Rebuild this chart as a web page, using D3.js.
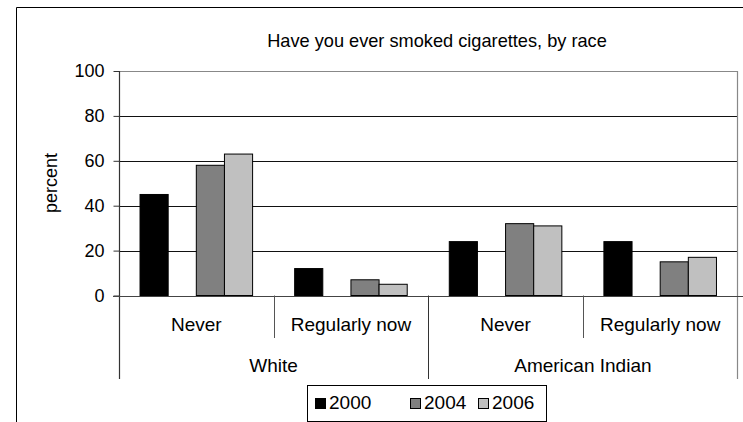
<!DOCTYPE html>
<html>
<head>
<meta charset="utf-8">
<script src="https://cdn.jsdelivr.net/npm/d3@7"></script>
<style>
  html, body { margin: 0; padding: 0; background: #fff; }
  svg { display: block; font-family: "Liberation Sans", Arial, sans-serif; }
</style>
</head>
<body>
<svg id="chart" width="743" height="422"></svg>
<script>
// ---- data ----
const groups = ["White", "American Indian"];
const answers = ["Never", "Regularly now"];
const years = [2000, 2004, 2006];
const values2000 = [45, 12, 24, 24];   // White-Never, White-Regularly, AI-Never, AI-Regularly
const values2004 = [58, 7, 32, 15];
const values2006 = [63, 5, 31, 17];
const yTicks = [0, 20, 40, 60, 80, 100];
const colors = ["#000000", "#808080", "#c0c0c0"];
const title = "Have you ever smoked cigarettes, by race";
const yLabel = "percent";

// ---- layout ----
const svg = d3.select("#chart");
const W = 743, H = 422;
const plot = { left: 119, right: 737.5, top: 71, bottom: 295.5 };

// outer frame (partially visible)
svg.append("path")
  .attr("d", `M16.5,${H + 2} L16.5,7.5 L${W + 2},7.5`)
  .attr("fill", "none").attr("stroke", "#000").attr("stroke-width", 1);

// title
svg.append("text")
  .attr("x", 437).attr("y", 47)
  .attr("text-anchor", "middle")
  .attr("font-size", 18.2)
  .attr("fill", "#000")
  .text(title);

const y = d3.scaleLinear().domain([0, 100]).range([plot.bottom, plot.top]);

const x0 = d3.scaleBand().domain(groups).range([plot.left, plot.right]).padding(0);
const x1 = d3.scaleBand().domain(answers).range([0, x0.bandwidth()]).padding(0);
const pad = x1.bandwidth() * 0.136;
const xYear = d3.scaleLinear().domain([1999, 2007]).range([pad, x1.bandwidth() - pad]);

// gridlines
svg.append("g").selectAll("line")
  .data(yTicks.filter(t => t > 0 && t < 100))
  .join("line")
  .attr("x1", plot.left).attr("x2", plot.right)
  .attr("y1", d => Math.round(y(d)) + 0.5).attr("y2", d => Math.round(y(d)) + 0.5)
  .attr("stroke", "#111").attr("stroke-width", 1);

// plot border top & right (gray)
svg.append("path")
  .attr("d", `M${plot.left},${Math.round(y(100)) + 0.5} L${plot.right},${Math.round(y(100)) + 0.5} L${plot.right},379`)
  .attr("fill", "none").attr("stroke", "#888").attr("stroke-width", 1.2);

// bars
const seriesValues = [values2000, values2004, values2006];
const cells = [];
groups.forEach((g, gi) => answers.forEach((a, ai) => {
  years.forEach((yr, si) => {
    cells.push({ g, a, yr, si, v: seriesValues[si][gi * answers.length + ai] });
  });
}));
svg.append("g").selectAll("rect")
  .data(cells)
  .join("rect")
  .attr("x", d => x0(d.g) + x1(d.a) + xYear(d.yr - 1))
  .attr("width", d => xYear(d.yr + 1) - xYear(d.yr - 1))
  .attr("y", d => y(d.v))
  .attr("height", d => y(0) - y(d.v))
  .attr("fill", d => colors[d.si])
  .attr("stroke", "#000").attr("stroke-width", 1);

// y axis
const yAxis = d3.axisLeft(y).tickValues(yTicks).tickSize(6).tickPadding(9).tickFormat(d3.format("d"));
const gy = svg.append("g").attr("transform", `translate(${plot.left + 0.5},0)`).call(yAxis);
gy.select(".domain").remove();
gy.selectAll(".tick line").attr("stroke", "#333");
gy.selectAll(".tick text").attr("font-size", 18).attr("font-family", "Liberation Sans, Arial, sans-serif").attr("fill", "#000");
// y axis line extending to bottom of category area
svg.append("line")
  .attr("x1", plot.left + 0.5).attr("x2", plot.left + 0.5)
  .attr("y1", plot.top).attr("y2", 379)
  .attr("stroke", "#333").attr("stroke-width", 1.2);

// x axis baseline
svg.append("line")
  .attr("x1", plot.left - 6).attr("x2", W)
  .attr("y1", Math.round(y(0)) + 0.5).attr("y2", Math.round(y(0)) + 0.5)
  .attr("stroke", "#444").attr("stroke-width", 1.2);

// y label
svg.append("text")
  .attr("transform", "translate(57,183) rotate(-90)")
  .attr("text-anchor", "middle")
  .attr("font-size", 18)
  .attr("fill", "#000")
  .text(yLabel);

// category axis: inner dividers and labels
const catG = svg.append("g");
groups.forEach(g => {
  answers.forEach((a, ai) => {
    const cx = x0(g) + x1(a) + x1.bandwidth() / 2;
    catG.append("text")
      .attr("x", cx).attr("y", 330.5)
      .attr("text-anchor", "middle")
      .attr("font-size", 19)
      .attr("fill", "#000")
      .text(a);
    if (ai > 0) {
      const dx = Math.round(x0(g) + x1(a)) + 0.5;
      catG.append("line")
        .attr("x1", dx).attr("x2", dx)
        .attr("y1", plot.bottom).attr("y2", 338)
        .attr("stroke", "#555").attr("stroke-width", 1);
    }
  });
  catG.append("text")
    .attr("x", x0(g) + x0.bandwidth() / 2).attr("y", 371.5)
    .attr("text-anchor", "middle")
    .attr("font-size", 19)
    .attr("fill", "#000")
    .text(g);
});
// outer dividers between groups
groups.slice(1).forEach(g => {
  const dx = Math.round(x0(g)) + 0.5;
  catG.append("line")
    .attr("x1", dx).attr("x2", dx)
    .attr("y1", plot.bottom).attr("y2", 379)
    .attr("stroke", "#333").attr("stroke-width", 1);
});

// legend
const leg = svg.append("g");
leg.append("rect")
  .attr("x", 307.5).attr("y", 385.5)
  .attr("width", 239).attr("height", 36)
  .attr("fill", "#fff").attr("stroke", "#000").attr("stroke-width", 1);
const legX = [315, 410, 478];
years.forEach((yr, i) => {
  leg.append("rect")
    .attr("x", legX[i] + 0.5).attr("y", 398.5)
    .attr("width", 10).attr("height", 10)
    .attr("fill", colors[i]).attr("stroke", "#000").attr("stroke-width", 1);
  leg.append("text")
    .attr("x", legX[i] + 14).attr("y", 409)
    .attr("font-size", 19)
    .attr("fill", "#000")
    .text(yr);
});
</script>
</body>
</html>
